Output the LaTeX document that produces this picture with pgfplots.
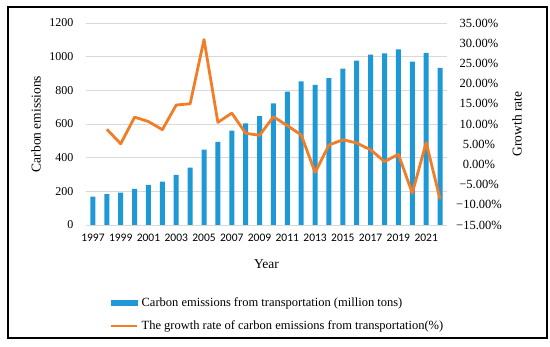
\documentclass[border=0pt]{standalone}
\usepackage{pgfplots}
\pgfplotsset{compat=1.18}
\usepackage{fontspec}
\setmainfont{Liberation Serif}
\newfontfamily\calibri{Carlito}
\definecolor{barblue}{RGB}{31,152,214}
\definecolor{lineorange}{RGB}{242,125,38}
\definecolor{gridgray}{RGB}{217,217,217}

\pgfplotstableread{
year val
1997 168
1998 183
1999 192
2000 214
2001 238
2002 258
2003 298
2004 341
2005 448
2006 494
2007 560
2008 603
2009 647
2010 722
2011 793
2012 853
2013 833
2014 873
2015 929
2016 976
2017 1012
2018 1020
2019 1043
2020 970
2021 1022
2022 933
}\emis

\pgfplotstableread{
year rate
1998 8.7
1999 5.1
2000 11.7
2001 10.6
2002 8.6
2003 14.7
2004 15.0
2005 30.9
2006 10.4
2007 12.7
2008 7.7
2009 7.2
2010 11.8
2011 9.6
2012 7.3
2013 -2.0
2014 4.8
2015 6.1
2016 5.3
2017 3.6
2018 0.7
2019 2.5
2020 -7.1
2021 5.4
2022 -8.6
}\rate

\begin{document}
\begin{tikzpicture}[x=1pt,y=1pt]
\path (-86,-122) rectangle (464,225);
\draw[line width=1.5pt] (-78,-113) rectangle (461,218);
\begin{axis}[
  at={(0,0)}, anchor=south west,
  scale only axis, width=361pt, height=202pt,
  xmin=1996.5, xmax=2022.5,
  ymin=0, ymax=1200, ytick={0,200,...,1200},
  axis line style={draw=none},
  major tick length=0pt,
  ymajorgrids, grid style={gridgray, line width=0.8pt},
  xtick={1997,1999,...,2021},
  xticklabels={1997,1999,2001,2003,2005,2007,2009,2011,2013,2015,2017,2019,2021},
  xticklabel style={font=\calibri\fontsize{11.5}{13}\selectfont, yshift=-6pt},
  /pgf/number format/assume math mode=true,
  /pgf/number format/1000 sep={},
  yticklabel style={font=\fontsize{12}{14}\selectfont, xshift=-9pt},
  ylabel={Carbon emissions},
  every axis y label/.style={at={(axis description cs:-0.1385,0.5)}, rotate=90, anchor=center, font=\fontsize{13.5}{15}\selectfont},
  xlabel={Year},
  every axis x label/.style={at={(axis description cs:0.5,-0.193)}, anchor=center, font=\fontsize{13.5}{15}\selectfont},
]
\addplot[ybar, bar width=5pt, fill=barblue, draw=none] table[x=year, y=val] {\emis};
\end{axis}
\begin{axis}[
  at={(0,0)}, anchor=south west,
  scale only axis, width=361pt, height=202pt,
  xmin=1996.5, xmax=2022.5,
  ymin=-15, ymax=35, ytick={-15,-10,...,35},
  yticklabels={−15.00\%,−10.00\%,−5.00\%,0.00\%,5.00\%,10.00\%,15.00\%,20.00\%,25.00\%,30.00\%,35.00\%},
  yticklabel pos=right,
  yticklabel style={font=\fontsize{12.5}{14}\selectfont, anchor=center, xshift=32pt},
  xtick=\empty,
  axis line style={draw=none},
  major tick length=0pt,
  ylabel={Growth rate},
  every axis y label/.style={at={(axis description cs:1.194,0.5)}, rotate=90, anchor=center, font=\fontsize{13.5}{15}\selectfont},
  legend style={at={(axis description cs:0.0655,-0.35)}, anchor=north west, draw=none, fill=none,
    font=\fontsize{12.5}{14}\selectfont, row sep=9pt, inner sep=0pt, nodes={inner sep=2pt},
    /tikz/every odd column/.append style={column sep=2pt}},
  legend cell align=left,
]
\addlegendimage{legend image code/.code={\fill[barblue] (0pt,-2.5pt) rectangle (26pt,2.5pt);}}
\addlegendentry{Carbon emissions from transportation (million tons)}
\addlegendimage{legend image code/.code={\draw[draw=lineorange, line width=1.8pt] (0pt,0pt) -- (26pt,0pt);}}
\addlegendentry{The growth rate of carbon emissions from transportation(\%)}
\addplot[lineorange, line width=2.8pt, line join=round, forget plot]
  table[x=year, y=rate] {\rate};
\end{axis}
\end{tikzpicture}
\end{document}
